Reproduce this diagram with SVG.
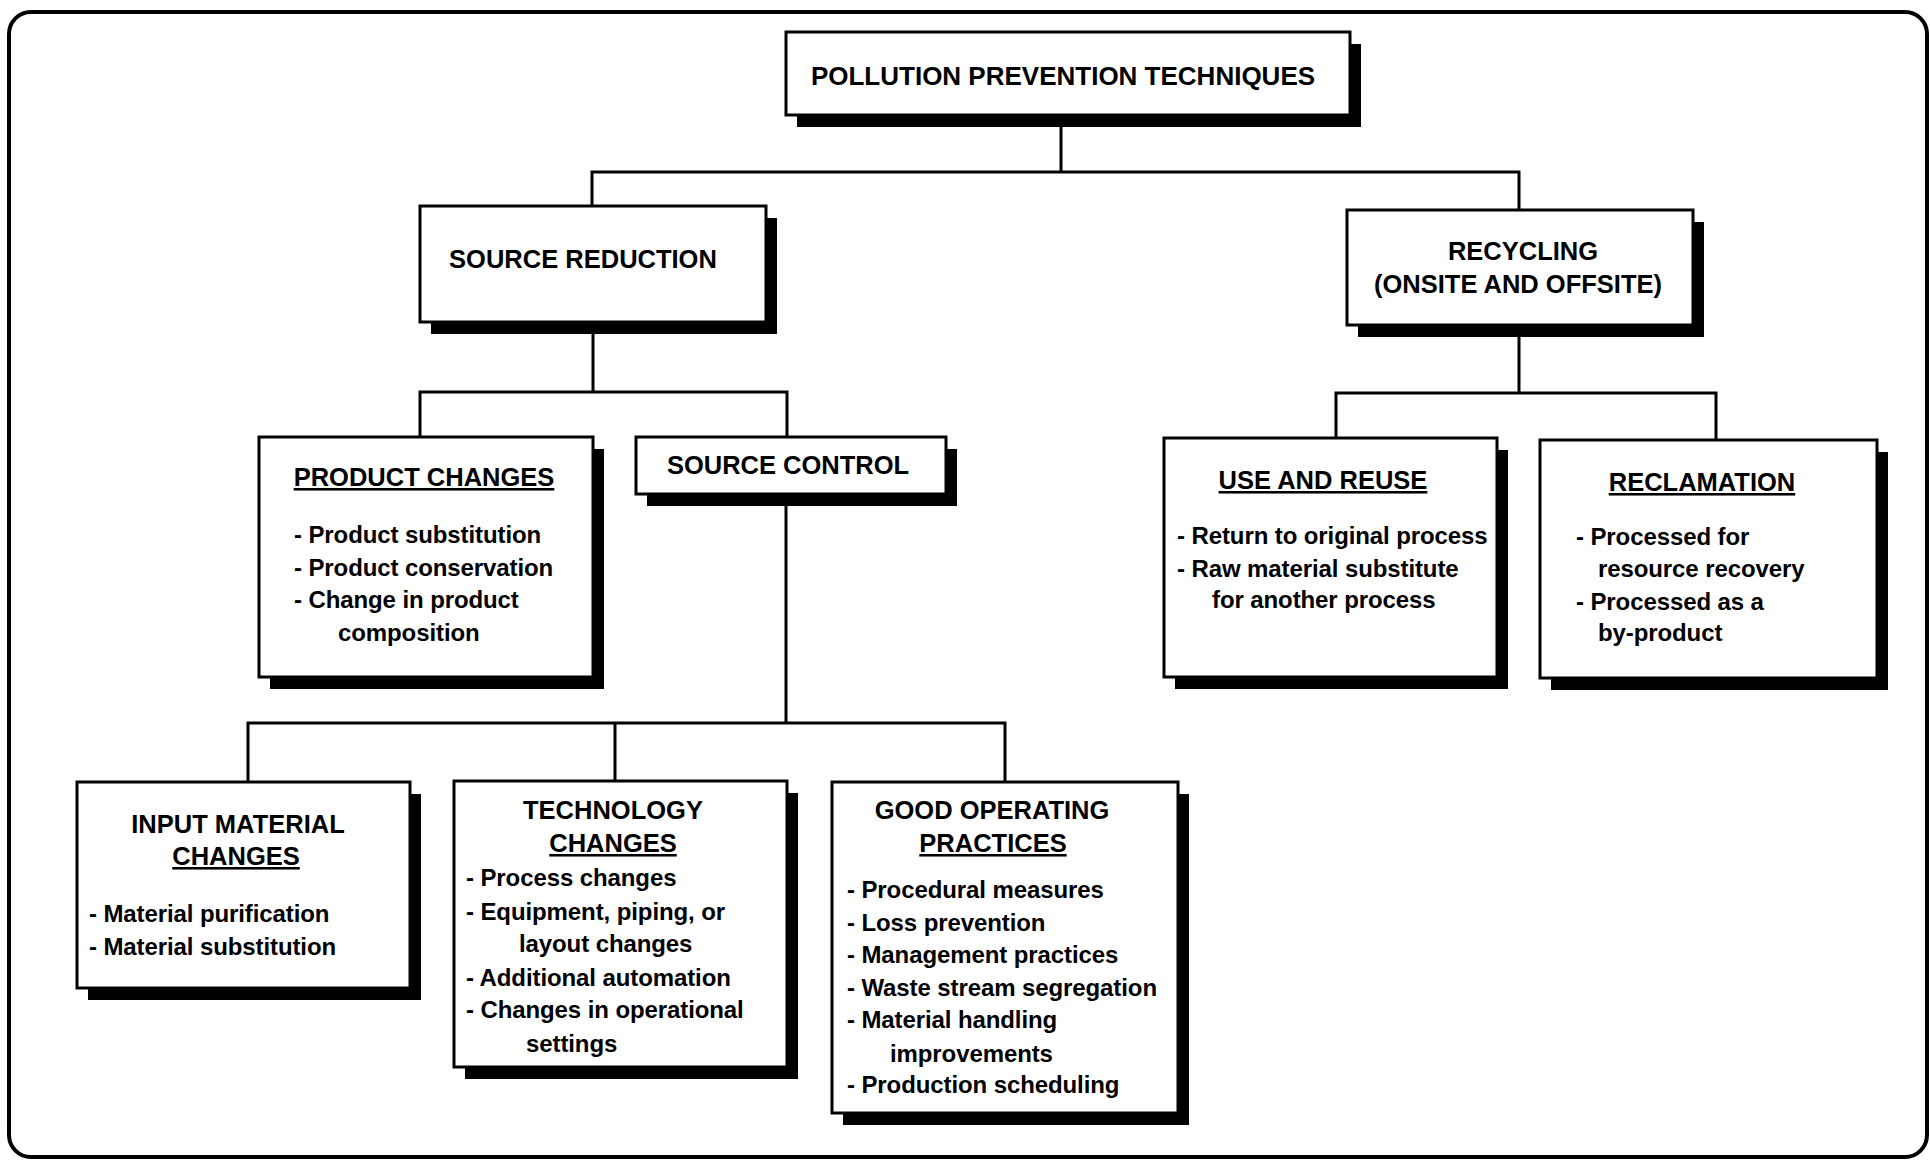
<svg xmlns="http://www.w3.org/2000/svg" width="1930" height="1160" viewBox="0 0 1930 1160">
  <style>
    .frame { fill: #fff; stroke: #000; stroke-width: 4; }
    .shadow { fill: #000; }
    .box { fill: #fff; stroke: #000; stroke-width: 3; }
    .wire { fill: none; stroke: #000; stroke-width: 3; stroke-linecap: square; }
    text { font-family: "Liberation Sans", Arial, Helvetica, sans-serif; font-weight: bold; fill: #000; }
    .head { font-size: 25.5px; text-anchor: middle; }
    .top { font-size: 26px; text-anchor: middle; }
    .item { font-size: 24px; letter-spacing: -0.1px; }
    .u { text-decoration: underline; }
  </style>

  <rect class="frame" x="9" y="12" width="1918" height="1145" rx="22" ry="22"/>

  <!-- tree connectors -->
  <g id="connectors">
    <path class="wire" d="M1061 115 V172 M592 172 H1519 M592 172 V206 M1519 172 V210"/>
    <path class="wire" d="M593 322 V392 M420 392 H787 M420 392 V437 M787 392 V437"/>
    <path class="wire" d="M1519 325 V393 M1336 393 H1716 M1336 393 V438 M1716 393 V440"/>
    <path class="wire" d="M786 494 V723 M248 723 H1005 M248 723 V782 M615 723 V781 M1005 723 V782"/>
  </g>

  <g id="pollution-prevention-techniques">
    <rect class="shadow" x="797" y="44" width="564" height="83"/>
    <rect class="box" x="786" y="32" width="564" height="83"/>
    <text class="top" x="1063" y="85">POLLUTION PREVENTION TECHNIQUES</text>
  </g>

  <g id="source-reduction">
    <rect class="shadow" x="431" y="218" width="346" height="116"/>
    <rect class="box" x="420" y="206" width="346" height="116"/>
    <text class="head" x="583" y="268">SOURCE REDUCTION</text>
  </g>

  <g id="recycling">
    <rect class="shadow" x="1358" y="222" width="346" height="115"/>
    <rect class="box" x="1347" y="210" width="346" height="115"/>
    <text class="head" x="1523" y="260">RECYCLING</text>
    <text class="head" x="1518" y="293">(ONSITE AND OFFSITE)</text>
  </g>

  <g id="product-changes">
    <rect class="shadow" x="270" y="449" width="334" height="240"/>
    <rect class="box" x="259" y="437" width="334" height="240"/>
    <text class="head u" x="424" y="486">PRODUCT CHANGES</text>
    <text class="item" x="294" y="543">- Product substitution</text>
    <text class="item" x="294" y="576">- Product conservation</text>
    <text class="item" x="294" y="608">- Change in product</text>
    <text class="item" x="338" y="641">composition</text>
  </g>

  <g id="source-control">
    <rect class="shadow" x="647" y="449" width="310" height="57"/>
    <rect class="box" x="636" y="437" width="310" height="57"/>
    <text class="head" x="788" y="474">SOURCE CONTROL</text>
  </g>

  <g id="use-and-reuse">
    <rect class="shadow" x="1175" y="450" width="333" height="239"/>
    <rect class="box" x="1164" y="438" width="333" height="239"/>
    <text class="head u" x="1323" y="489">USE AND REUSE</text>
    <text class="item" x="1177" y="544">- Return to original process</text>
    <text class="item" x="1177" y="577">- Raw material substitute</text>
    <text class="item" x="1212" y="608">for another process</text>
  </g>

  <g id="reclamation">
    <rect class="shadow" x="1551" y="452" width="337" height="238"/>
    <rect class="box" x="1540" y="440" width="337" height="238"/>
    <text class="head u" x="1702" y="491">RECLAMATION</text>
    <text class="item" x="1576" y="545">- Processed for</text>
    <text class="item" x="1598" y="577">resource recovery</text>
    <text class="item" x="1576" y="610">- Processed as a</text>
    <text class="item" x="1598" y="641">by-product</text>
  </g>

  <g id="input-material-changes">
    <rect class="shadow" x="88" y="794" width="333" height="206"/>
    <rect class="box" x="77" y="782" width="333" height="206"/>
    <text class="head" x="238" y="833">INPUT MATERIAL</text>
    <text class="head u" x="236" y="865">CHANGES</text>
    <text class="item" x="89" y="922">- Material purification</text>
    <text class="item" x="89" y="955">- Material substitution</text>
  </g>

  <g id="technology-changes">
    <rect class="shadow" x="465" y="793" width="333" height="286"/>
    <rect class="box" x="454" y="781" width="333" height="286"/>
    <text class="head" x="613" y="819">TECHNOLOGY</text>
    <text class="head u" x="613" y="852">CHANGES</text>
    <text class="item" x="466" y="886">- Process changes</text>
    <text class="item" x="466" y="920">- Equipment, piping, or</text>
    <text class="item" x="519" y="952">layout changes</text>
    <text class="item" x="466" y="986">- Additional automation</text>
    <text class="item" x="466" y="1018">- Changes in operational</text>
    <text class="item" x="526" y="1052">settings</text>
  </g>

  <g id="good-operating-practices">
    <rect class="shadow" x="843" y="794" width="346" height="331"/>
    <rect class="box" x="832" y="782" width="346" height="331"/>
    <text class="head" x="992" y="819">GOOD OPERATING</text>
    <text class="head u" x="993" y="852">PRACTICES</text>
    <text class="item" x="847" y="898">- Procedural measures</text>
    <text class="item" x="847" y="931">- Loss prevention</text>
    <text class="item" x="847" y="963">- Management practices</text>
    <text class="item" x="847" y="996">- Waste stream segregation</text>
    <text class="item" x="847" y="1028">- Material handling</text>
    <text class="item" x="890" y="1062">improvements</text>
    <text class="item" x="847" y="1093">- Production scheduling</text>
  </g>
</svg>
